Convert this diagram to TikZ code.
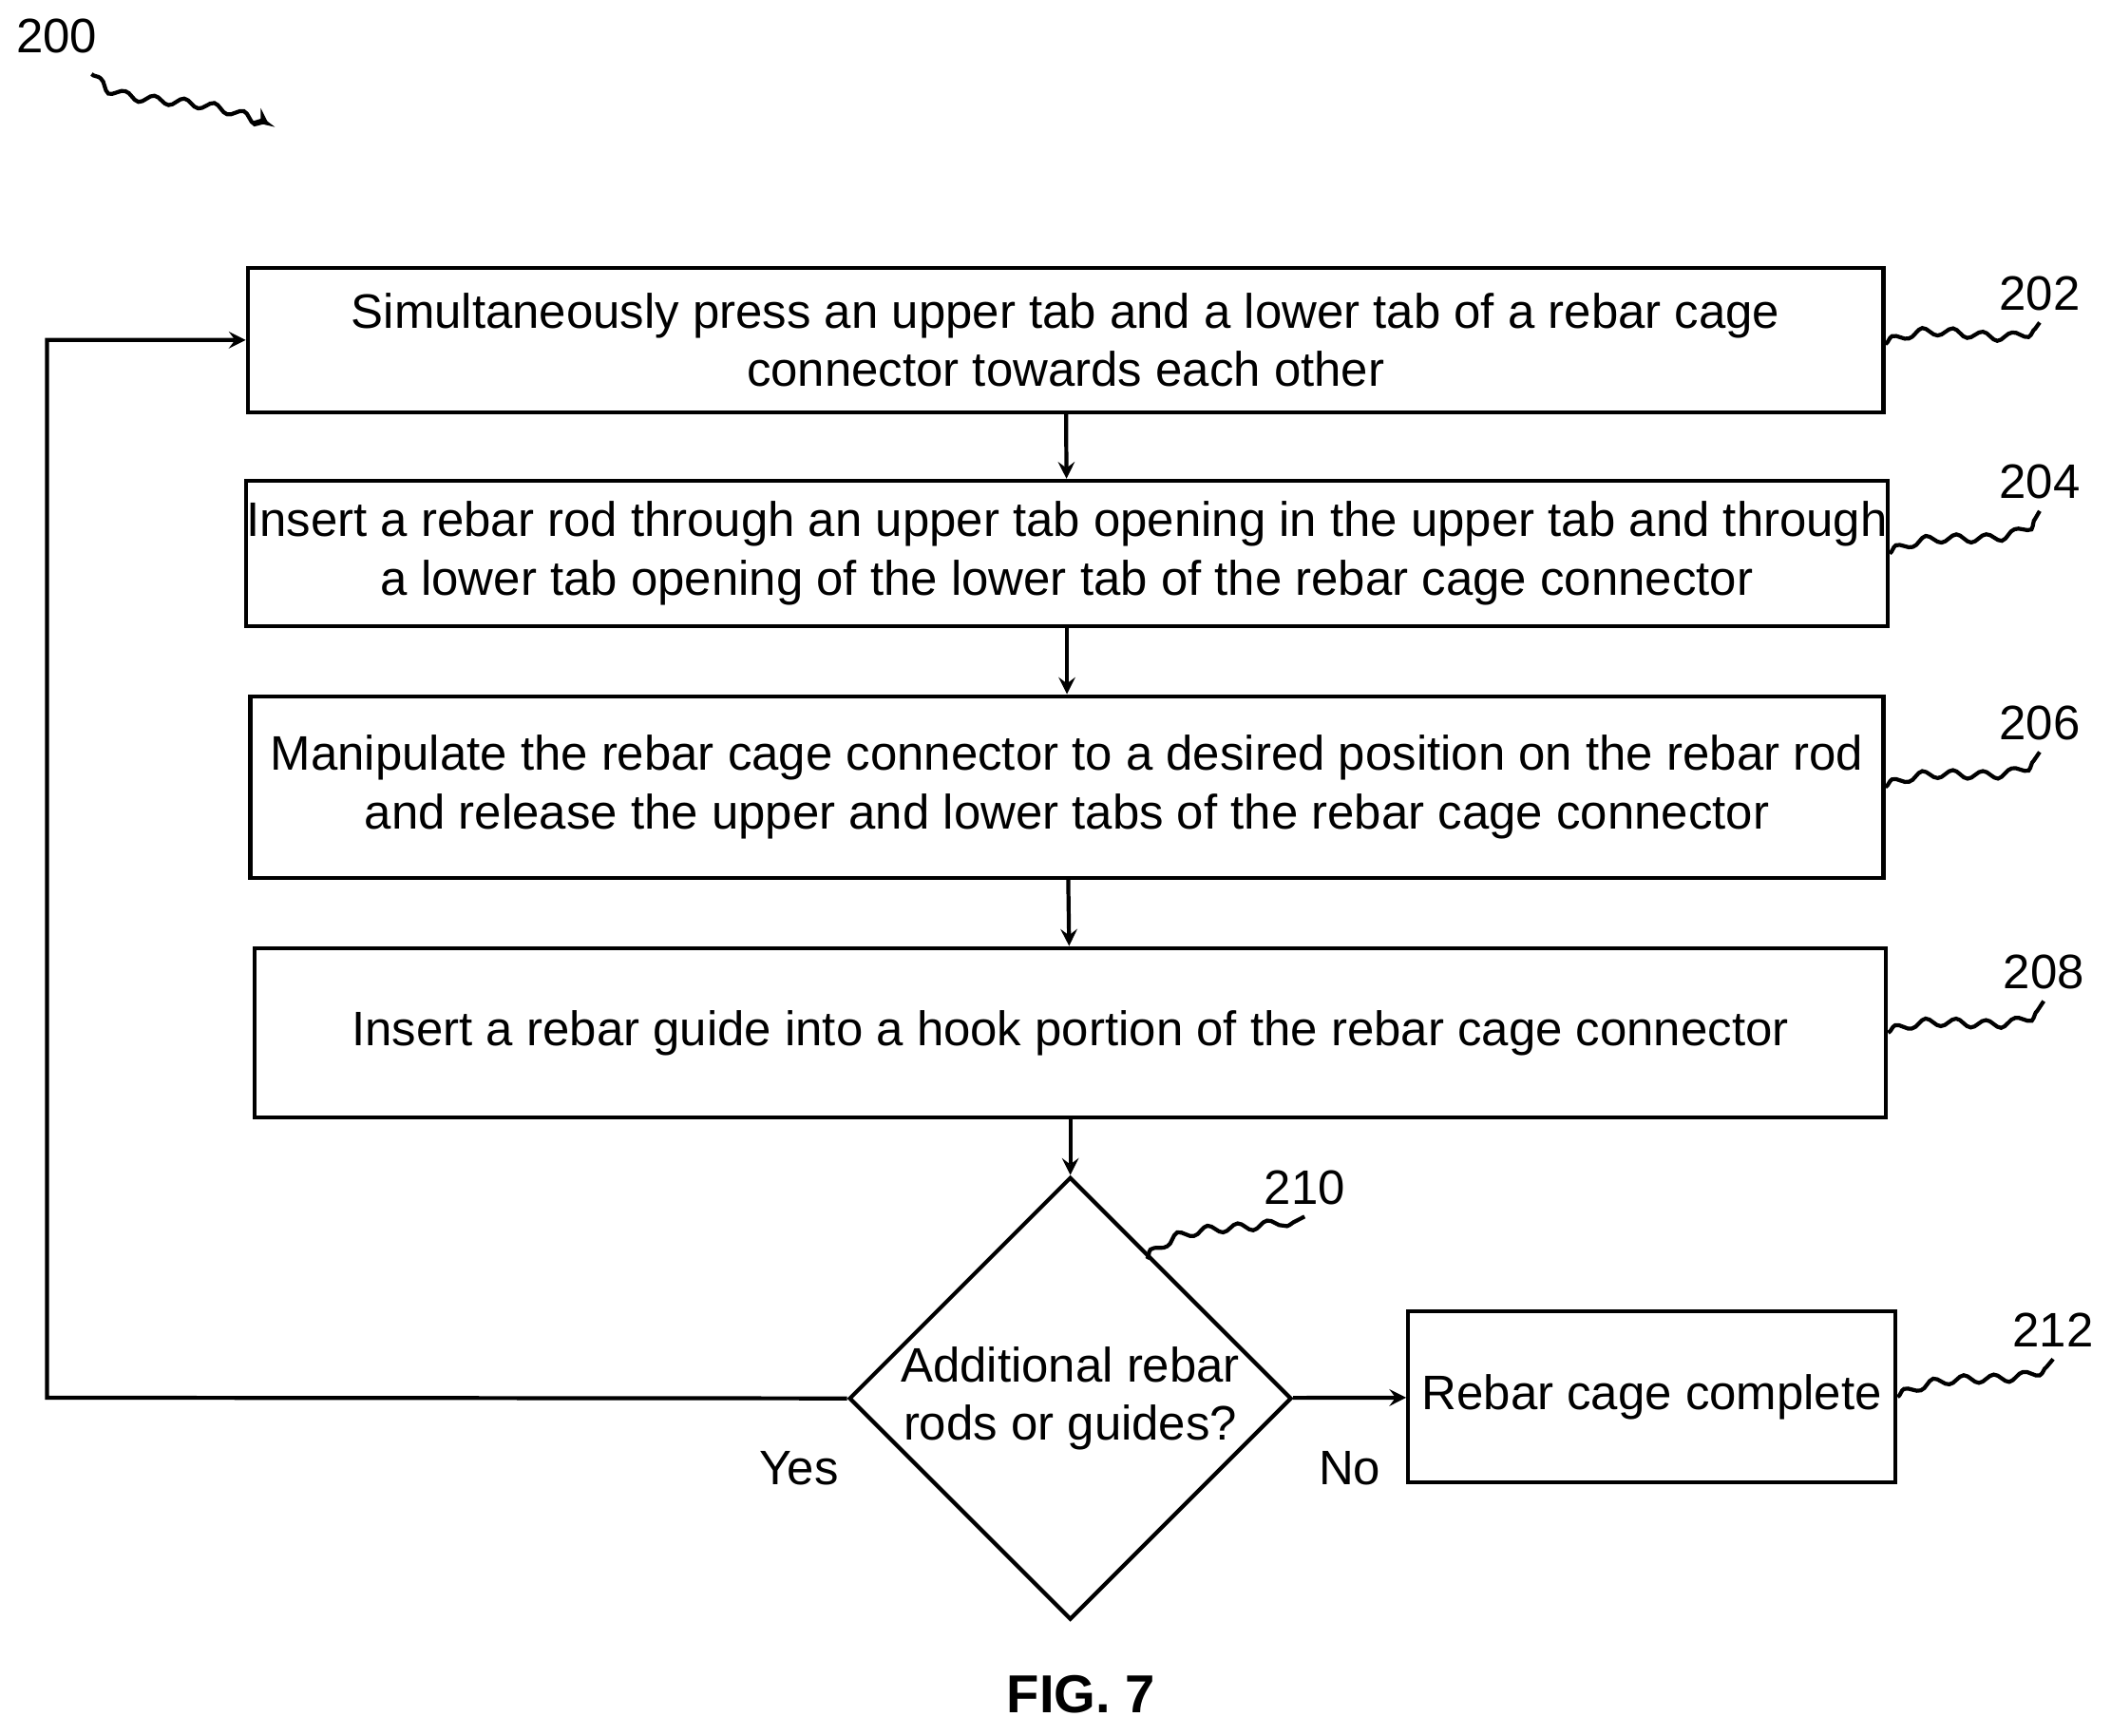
\documentclass[tikz,border=0pt]{standalone}
\usepackage{fontspec}
\setmainfont{Liberation Sans}
\usetikzlibrary{positioning, arrows, shapes.geometric, decorations.pathmorphing}

\begin{document}
\begin{tikzpicture}[x=0.01417cm, y=-0.01417cm,
    step/.style={draw, line width=1.2pt, minimum height=#1, inner sep=0pt, align=center, font=\fontsize{14.5}{17.5}\selectfont},
    flow/.style={-stealth, line width=1.2pt},
    ref/.style={font=\fontsize{14.5}{17}\selectfont},
    squig/.style={line width=1.2pt, decorate, decoration={snake, amplitude=1.2pt, segment length=9pt}}]
    \useasboundingbox (0,0) rectangle (1568,1289);

    \node[step=107*0.01417cm, minimum width=1215*0.01417cm] (s202) at (791.5, 252.5) {Simultaneously press an upper tab and a lower tab of a rebar cage\\connector towards each other};
    \node[step=108*0.01417cm, minimum width=1213*0.01417cm] (s204) at (792.5, 411) {Insert a rebar rod through an upper tab opening in the upper tab and through\\a lower tab opening of the lower tab of the rebar cage connector};
    \node[step=135*0.01417cm, minimum width=1213*0.01417cm] (s206) at (792.5, 584.5) {Manipulate the rebar cage connector to a desired position on the rebar rod\\and release the upper and lower tabs of the rebar cage connector};
    \node[step=126*0.01417cm, minimum width=1212*0.01417cm] (s208) at (795, 767) {Insert a rebar guide into a hook portion of the rebar cage connector};
    \node[diamond, draw, line width=1.2pt, minimum width=310*0.01417cm, minimum height=313*0.01417cm, inner sep=0pt, align=center, font=\fontsize{14.5}{17.5}\selectfont] (d210) at (795, 1038.5) {Additional rebar\\rods or guides?};
    \node[step=127*0.01417cm, minimum width=362*0.01417cm] (s212) at (1227, 1037.5) {Rebar cage complete};

    \draw[flow] (s202) -- (s204);
    \draw[flow] (s204) -- (s206);
    \draw[flow] (s206) -- (s208);
    \draw[flow] (s208) -- (d210);
    \draw[flow] (d210) -- node[ref, below=12pt] {No} (s212);
    \draw[flow] (d210.west) -- node[ref, pos=0.06, below=12pt] {Yes} (35,1038) |- (s202.west);

    % reference numerals
    \node[ref] (n200) at (42, 27) {200};
    \node[ref] (n202) at (1515, 218) {202};
    \node[ref] (n204) at (1515, 358) {204};
    \node[ref] (n206) at (1515, 537) {206};
    \node[ref] (n208) at (1518, 722) {208};
    \node[ref] (n210) at (969, 882) {210};
    \node[ref] (n212) at (1525, 988) {212};
    \draw[squig, -stealth] (68,55) .. controls (90,80) and (150,60) .. (200,93);
    \draw[squig] (s202.east) ++(0,3) .. controls (1440,235) and (1490,270) .. (n202.south);
    \draw[squig] (s204.east) .. controls (1440,390) and (1490,420) .. (n204.south);
    \draw[squig] (s206.east) .. controls (1440,565) and (1490,595) .. (n206.south);
    \draw[squig] (s208.east) .. controls (1440,750) and (1495,780) .. (n208.south);
    \draw[squig] (852,935) .. controls (880,905) and (930,925) .. (n210.south);
    \draw[squig] (s212.east) .. controls (1450,1015) and (1500,1040) .. (n212.south);

    \node[font=\bfseries\fontsize{16}{19}\selectfont] (fig) at (803, 1258) {FIG. 7};
\end{tikzpicture}
\end{document}
